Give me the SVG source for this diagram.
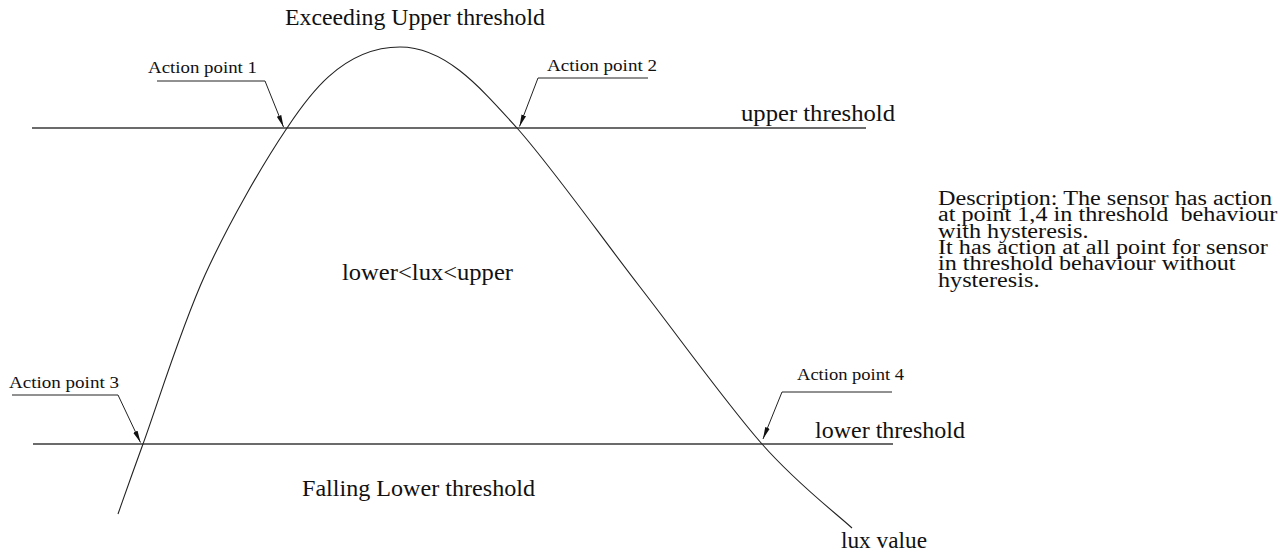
<svg xmlns="http://www.w3.org/2000/svg" width="1283" height="556" viewBox="0 0 1283 556">
  <defs>
    <style>
      .t { font-family: "Liberation Serif", "Times New Roman", serif; fill: #111; }
      .big { font-size: 24px; }
      .desc { font-size: 20px; }
      .small { font-size: 16px; }
      .line { stroke: #3a3a3a; stroke-width: 1.4; fill: none; }
      .curve { stroke: #222; stroke-width: 1.1; fill: none; }
      .leader { stroke: #222; stroke-width: 1; fill: none; }
    </style>
    <marker id="arr" viewBox="0 0 12 6" refX="12" refY="3" markerWidth="12" markerHeight="6" markerUnits="userSpaceOnUse" orient="auto">
      <path d="M0,0.6 L12,3 L0,5.4 Z" fill="#111"/>
    </marker>
  </defs>
  <rect width="1283" height="556" fill="#fff"/>

  <g id="thresholds">
    <line class="line" x1="32" y1="128" x2="866" y2="128"/>
    <line class="line" x1="33" y1="444" x2="893" y2="444"/>
  </g>

  <g id="connectors">
    <path id="lux-curve" class="curve" d="M118,514 C122.2,502.3 128.5,483.8 143,444 C157.5,404.2 181,327.7 205,275 C229,222.3 262.5,164.5 287,128 C305,101 340,47 400,47 C445,47 479,86 517,128 C550.8,165.8 599.2,234.3 640,287 C680.8,339.7 726.7,403.8 762,444 C797.3,484.2 837,514 852,528"/>
    <polyline class="leader" points="157,81 265,81 283.5,127" marker-end="url(#arr)"/>
    <polyline class="leader" points="648,78 538,78 519.5,126.5" marker-end="url(#arr)"/>
    <polyline class="leader" points="12,395 118,395 140.5,442.5" marker-end="url(#arr)"/>
    <polyline class="leader" points="892,392 782,392 763,439" marker-end="url(#arr)"/>
  </g>

  <g id="label-exceeding"><text class="t big" x="285" y="25" textLength="260" lengthAdjust="spacingAndGlyphs">Exceeding Upper threshold</text></g>
  <g id="label-ap1"><text class="t small" x="148" y="72.5" textLength="109" lengthAdjust="spacingAndGlyphs">Action point 1</text></g>
  <g id="label-ap2"><text class="t small" x="547" y="71" textLength="110" lengthAdjust="spacingAndGlyphs">Action point 2</text></g>
  <g id="label-ap3"><text class="t small" x="9" y="388" textLength="110" lengthAdjust="spacingAndGlyphs">Action point 3</text></g>
  <g id="label-ap4"><text class="t small" x="797" y="380" textLength="107" lengthAdjust="spacingAndGlyphs">Action point 4</text></g>
  <g id="label-upper"><text class="t big" x="741" y="121" textLength="154" lengthAdjust="spacingAndGlyphs">upper threshold</text></g>
  <g id="label-lower"><text class="t big" x="815" y="438" textLength="150" lengthAdjust="spacingAndGlyphs">lower threshold</text></g>
  <g id="label-range"><text class="t big" x="342" y="280" textLength="171" lengthAdjust="spacingAndGlyphs">lower&lt;lux&lt;upper</text></g>
  <g id="label-falling"><text class="t big" x="302" y="496" textLength="233" lengthAdjust="spacingAndGlyphs">Falling Lower threshold</text></g>
  <g id="label-lux"><text class="t big" x="841" y="548" textLength="86" lengthAdjust="spacingAndGlyphs">lux value</text></g>
  <g id="description" transform="translate(938,0) scale(1.21,1)">
    <text class="t desc" x="0" y="205">Description: The sensor has action</text>
    <text class="t desc" x="0" y="221.3" xml:space="preserve">at point 1,4 in threshold  behaviour</text>
    <text class="t desc" x="0" y="237.6">with hysteresis.</text>
    <text class="t desc" x="0" y="254">It has action at all point for sensor</text>
    <text class="t desc" x="0" y="270.3">in threshold behaviour without</text>
    <text class="t desc" x="0" y="286.6">hysteresis.</text>
  </g>
</svg>
